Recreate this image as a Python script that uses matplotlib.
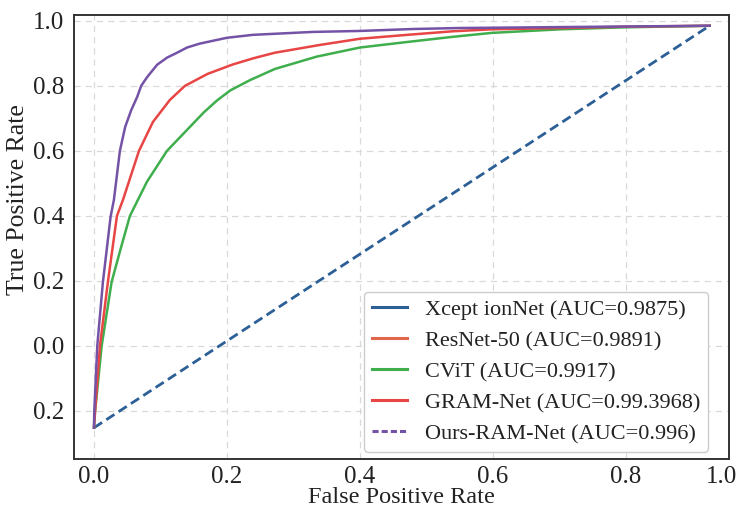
import matplotlib
matplotlib.use("Agg")
import matplotlib.pyplot as plt
from matplotlib.lines import Line2D

plt.rcParams["font.family"] = ["Liberation Serif", "DejaVu Serif"]

# ROC curves (axis coordinates)
ours_fpr = [0.0, 0.0005, 0.005, 0.0135, 0.025, 0.030, 0.039, 0.047, 0.056, 0.065,
            0.071, 0.080, 0.095, 0.110, 0.125, 0.140, 0.159, 0.200, 0.239, 0.329,
            0.400, 0.480, 0.550, 0.761, 0.926]
ours_tpr = [-0.252, -0.200, 0.000, 0.197, 0.397, 0.449, 0.600, 0.674, 0.725, 0.766,
            0.800, 0.827, 0.865, 0.887, 0.902, 0.918, 0.930, 0.948, 0.957, 0.966,
            0.969, 0.975, 0.978, 0.982, 0.985]

gram_fpr = [0.0, 0.0015, 0.009, 0.021, 0.0346, 0.0436, 0.0677, 0.0887, 0.1143, 0.1368,
            0.171, 0.209, 0.240, 0.272, 0.340, 0.400, 0.471, 0.540, 0.598, 0.701,
            0.798, 0.926]
gram_tpr = [-0.252, -0.206, 0.000, 0.197, 0.400, 0.449, 0.600, 0.689, 0.757, 0.800,
            0.837, 0.866, 0.885, 0.902, 0.926, 0.945, 0.957, 0.968, 0.974, 0.978,
            0.982, 0.985]

cvit_fpr = [0.0, 0.0015, 0.0116, 0.0266, 0.0406, 0.0541, 0.0797, 0.1098, 0.1444, 0.165,
            0.185, 0.205, 0.235, 0.272, 0.335, 0.400, 0.471, 0.540, 0.598, 0.701,
            0.795, 0.926]
cvit_tpr = [-0.252, -0.206, 0.000, 0.197, 0.302, 0.400, 0.505, 0.600, 0.674, 0.718,
            0.755, 0.786, 0.818, 0.852, 0.890, 0.918, 0.935, 0.951, 0.963, 0.974,
            0.980, 0.985]

chance_fpr = [0.0, 0.926]
chance_tpr = [-0.252, 0.985]

legend_labels = ["Xcept ionNet (AUC=0.9875)", "ResNet-50 (AUC=0.9891)",
                 "CViT (AUC=0.9917)", "GRAM-Net (AUC=0.99.3968)",
                 "Ours-RAM-Net (AUC=0.996)"]

x_ticks = [0.0, 0.2, 0.4, 0.6, 0.8]
x_tick_labels = ["0.0", "0.2", "0.4", "0.6", "0.8"]
x_end_tick = 0.944
y_ticks = [-0.2, 0.0, 0.2, 0.4, 0.6, 0.8, 1.0]
y_tick_labels = ["0.2", "0.0", "0.2", "0.4", "0.6", "0.8", "1.0"]

c_blue = "#2c5f96"
c_orange = "#e0684a"
c_green = "#3fae4c"
c_red = "#e84545"
c_purple = "#7453a6"

fig = plt.figure(figsize=(7.43, 5.11), dpi=100)
ax = fig.add_axes([0.0996, 0.1018, 0.8815, 0.8688])

ax.plot(chance_fpr, chance_tpr, color=c_blue, lw=2.0, ls=(0, (3.5, 1.8)), zorder=2)
ax.plot(cvit_fpr, cvit_tpr, color=c_green, lw=1.8, zorder=3)
ax.plot(gram_fpr, gram_tpr, color=c_red, lw=1.8, zorder=4)
ax.plot(ours_fpr, ours_tpr, color=c_purple, lw=1.8, zorder=5)

ax.set_xlim(-0.030, 0.955)
ax.set_ylim(-0.348, 1.018)

ax.set_xticks(x_ticks)
ax.set_xticklabels(x_tick_labels)
ax.set_xticks([x_end_tick], minor=True)
ax.set_xticklabels(["1.0"], minor=True)
ax.set_yticks(y_ticks)
ax.set_yticklabels(y_tick_labels)
ax.tick_params(axis="both", which="both", length=0, labelsize=18, colors="#222222")
ax.tick_params(axis="x", which="both", pad=5)
ax.tick_params(axis="y", which="both", pad=7)

ax.grid(True, which="major", color="#d9d9d9", ls=(0, (5, 4)), lw=0.9)
ax.set_axisbelow(True)
for s in ax.spines.values():
    s.set_color("#333333")
    s.set_linewidth(1.4)

ax.set_xlabel("False Positive Rate", fontsize=17.5, labelpad=-1, color="#222222")
ax.set_ylabel("True Positive Rate", fontsize=18.5, color="#222222")
ax.yaxis.set_label_coords(-0.069, 0.585)

handles = [
    Line2D([], [], color=c_blue, lw=2.2),
    Line2D([], [], color=c_orange, lw=2.2),
    Line2D([], [], color=c_green, lw=2.2),
    Line2D([], [], color=c_red, lw=2.2),
    Line2D([], [], color=c_purple, lw=2.2, ls=(0, (2, 1))),
]
leg = ax.legend(handles, legend_labels, loc="lower right", fontsize=16,
                frameon=True, fancybox=True, framealpha=1.0, edgecolor="#cccccc",
                handlelength=1.6, handletextpad=0.8, labelspacing=0.47,
                borderpad=0.35, borderaxespad=0.0, bbox_to_anchor=(0.968, 0.016))
leg.get_frame().set_linewidth(1.0)
for t in leg.get_texts():
    t.set_color("#222222")

fig.savefig("out.png", dpi=100)
